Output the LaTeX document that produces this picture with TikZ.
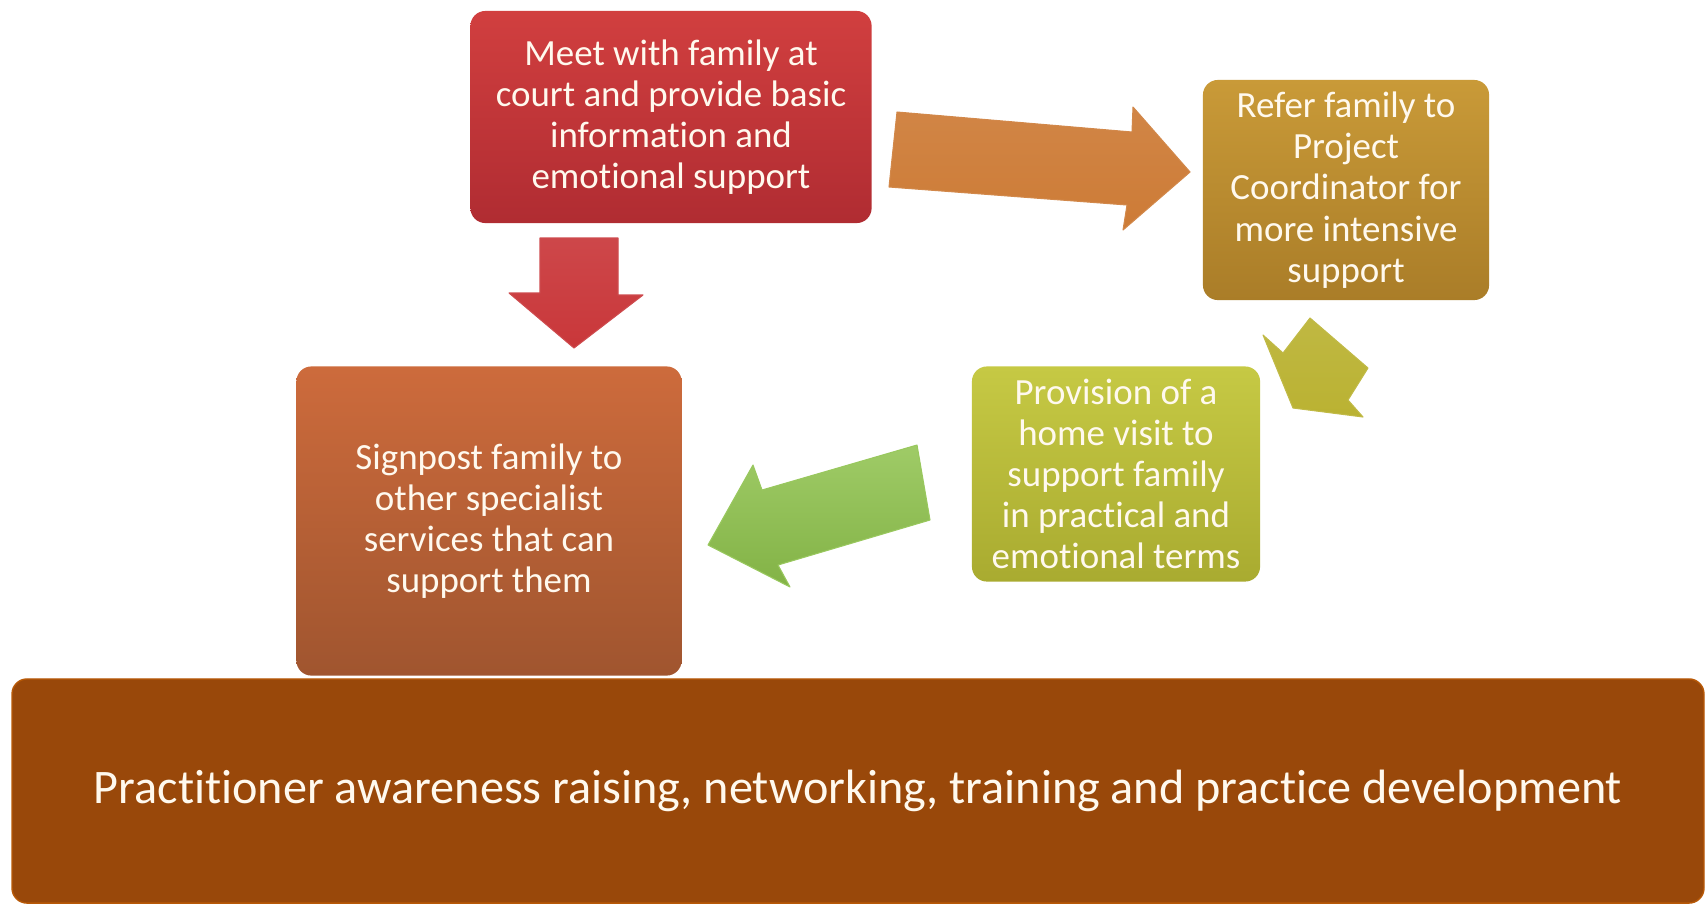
\documentclass[tikz,border=0pt]{standalone}
\usepackage{fontspec}
\setmainfont{Carlito}[Ligatures=NoCommon]
\definecolor{meettop}{HTML}{D13F3F}
\definecolor{meetbot}{HTML}{B02C32}
\definecolor{refertop}{HTML}{C99A38}
\definecolor{referbot}{HTML}{AA7D28}
\definecolor{signtop}{HTML}{CD6B3C}
\definecolor{signbot}{HTML}{A0552F}
\definecolor{provtop}{HTML}{C6C944}
\definecolor{provbot}{HTML}{A9AB30}
\definecolor{barfill}{HTML}{99480A}
\definecolor{redarrow}{HTML}{C9373A}
\definecolor{orangearrow}{HTML}{CD7B36}
\definecolor{olivearrow}{HTML}{BAB232}
\definecolor{greenarrow}{HTML}{8EC24C}
\definecolor{boxtext}{HTML}{FFF9EE}
\begin{document}
\begin{tikzpicture}[x=0.01cm,y=-0.01cm,
  stagebox/.style={rounded corners=0.15cm,align=center,text=boxtext,
    font=\fontsize{10.5}{11.7}\selectfont,inner sep=0pt},
  blockarrow/.style={line join=round,line width=0.3pt}]
 \useasboundingbox (0,0) rectangle (1706,905);
 % boxes
 \node[stagebox,fill=barfill,draw=barfill!70!orange,
   minimum width=16.91cm,minimum height=2.24cm,font=\fontsize{13.7}{15}\selectfont]
   (practice) at (858,791) {Practitioner awareness raising, networking, training and practice development};
 \node[stagebox,top color=meettop,bottom color=meetbot,minimum width=4.01cm,minimum height=2.12cm]
   (meet) at (671,117) {Meet with family at\\court and provide basic\\information and\\emotional support};
 \node[stagebox,top color=refertop,bottom color=referbot,minimum width=2.86cm,minimum height=2.2cm]
   (refer) at (1346,190) {Refer family to\\Project\\Coordinator for\\more intensive\\support};
 \node[stagebox,top color=signtop,bottom color=signbot,minimum width=3.85cm,minimum height=3.09cm]
   (signpost) at (489,521) {Signpost family to\\other specialist\\services that can\\support them};
 \node[stagebox,top color=provtop,bottom color=provbot,minimum width=2.88cm,minimum height=2.15cm]
   (provision) at (1116,474) {Provision of a\\home visit to\\support family\\in practical and\\emotional terms};
 % arrows
 \draw[blockarrow,draw=redarrow!90!white,top color=redarrow!92!white,bottom color=redarrow]
   (540,238)--(618,238)--(618,295)--(643,295)--(574,348)--(509,293)--(540,293)--cycle;
 \draw[blockarrow,draw=orangearrow!90!white,top color=orangearrow!92!white,bottom color=orangearrow]
   (897,112)--(1132,132)--(1133,107)--(1190,172)--(1123,230)--(1127,205)--(889,187)--cycle;
 \draw[blockarrow,draw=olivearrow!90!white,top color=olivearrow!92!white,bottom color=olivearrow]
   (1310,318)--(1368,368)--(1348,400)--(1363,417)--(1293,408)--(1263,335)--(1283,353)--cycle;
 \draw[blockarrow,draw=greenarrow!90!white,top color=greenarrow!85!white,bottom color=greenarrow!92!black]
   (917,445)--(930,520)--(778,565)--(790,587)--(708,545)--(753,465)--(762,490)--cycle;
\end{tikzpicture}
\end{document}
